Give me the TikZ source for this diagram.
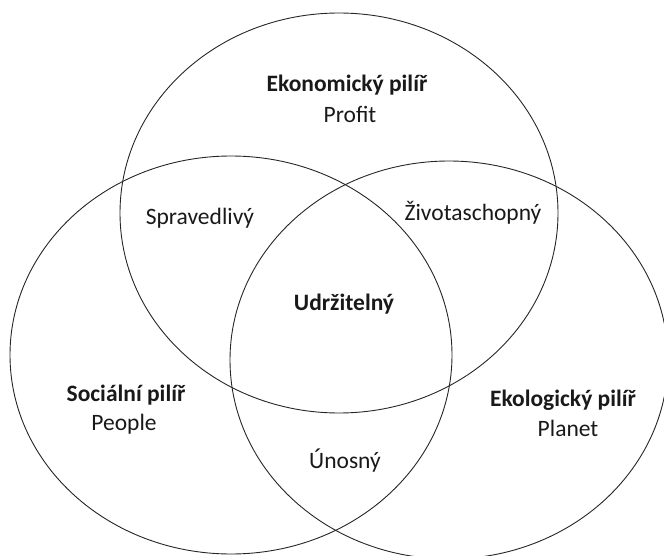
\documentclass[tikz,border=0pt]{standalone}
\usepackage{fontspec}
\setmainfont{Carlito}
\begin{document}
\begin{tikzpicture}[x=1pt,y=-1pt,
  ring/.style={draw=black!85,line width=0.9pt},
  lbl/.style={font=\fontsize{23.5}{28}\selectfont,text=black!90,align=center,inner sep=0pt},
  lblb/.style={lbl,font=\fontsize{23.5}{28}\selectfont\bfseries}]
\useasboundingbox (0,0) rectangle (664,556);
\clip (0,0) rectangle (664,556);
\draw[ring] (339,213) ellipse [x radius=219, y radius=200];
\draw[ring] (231,355) ellipse [x radius=221, y radius=199];
\draw[ring] (449,360) ellipse [x radius=219, y radius=199];
\node[lblb] (eko) at (347,85) {Ekonomický pilíř};
\node[lbl] (profit) at (350,114) {Profit};
\node[lbl] (sprav) at (200,218) {Spravedlivý};
\node[lbl] (zivot) at (473,213) {Životaschopný};
\node[lblb] (udrz) at (344,304) {Udržitelný};
\node[lblb] (soc) at (126,395) {Sociální pilíř};
\node[lbl] (people) at (124,424) {People};
\node[lblb] (ekol) at (563,400) {Ekologický pilíř};
\node[lbl] (planet) at (568,428) {Planet};
\node[lbl] (unos) at (345,461) {Únosný};
\end{tikzpicture}
\end{document}
